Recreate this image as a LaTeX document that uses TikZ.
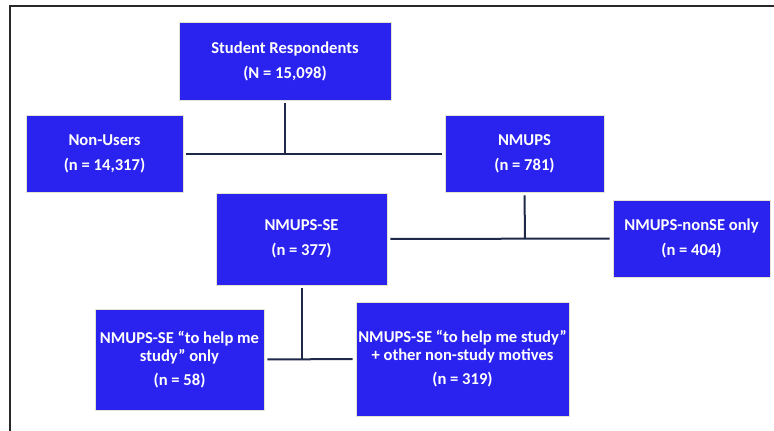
\documentclass[tikz,border=0pt]{standalone}
\usepackage{fontspec}
\setmainfont{Carlito}
\definecolor{boxblue}{RGB}{42,34,238}
\definecolor{linenavy}{RGB}{30,40,72}
\definecolor{framegray}{RGB}{40,40,40}
\begin{document}
\begin{tikzpicture}[x=1pt,y=-1pt,
  box/.style={fill=boxblue,draw=boxblue!40!yellow!30,line width=0.6pt,text=white,align=center,inner sep=0pt,
    font=\fontsize{16.6}{18}\selectfont\bfseries},
  link/.style={draw=linenavy,line width=2pt,shorten <=3pt,shorten >=3pt},
  vlink/.style={draw=linenavy,line width=2pt,shorten <=3pt}]
\useasboundingbox (0,0) rectangle (774,431);
\draw[framegray,line width=1.5pt] (10,431) -- (10,6) -- (774,6);

\node[box,minimum width=212pt,minimum height=78pt] (sr) at (285,61) {Student Respondents\\[7pt](N = 15,098)};
\node[box,minimum width=157pt,minimum height=77pt] (nu) at (104.5,153.5) {Non-Users\\[7pt](n = 14,317)};
\node[box,minimum width=159pt,minimum height=77pt] (nm) at (524.5,153.5) {NMUPS\\[7pt](n = 781)};
\node[box,minimum width=171pt,minimum height=92pt] (se) at (301.5,239) {NMUPS-SE\\[7pt](n = 377)};
\node[box,minimum width=157pt,minimum height=77pt] (ns) at (691.5,238.5) {NMUPS-nonSE only\\[7pt](n = 404)};
\node[box,minimum width=169pt,minimum height=101pt] (b58) at (179.5,359.5) {NMUPS-SE “to help me\\study” only\\[6pt](n = 58)};
\node[box,minimum width=213pt,minimum height=114pt] (b319) at (462.5,359) {NMUPS-SE “to help me study”\\+ other non-study motives\\[6pt](n = 319)};

\coordinate (j1) at (285,154);
\coordinate (j2) at (525,239);
\coordinate (j3) at (301.5,360);

\draw[vlink] (sr.south) -- (j1);
\draw[link] (nu.east) -- (nm.west);
\draw[vlink] (nm.south) -- (j2);
\draw[link] (se.east) -- (ns.west);
\draw[vlink] (se.south) -- (j3);
\draw[link] (b58.east) -- (b319.west);
\end{tikzpicture}
\end{document}
